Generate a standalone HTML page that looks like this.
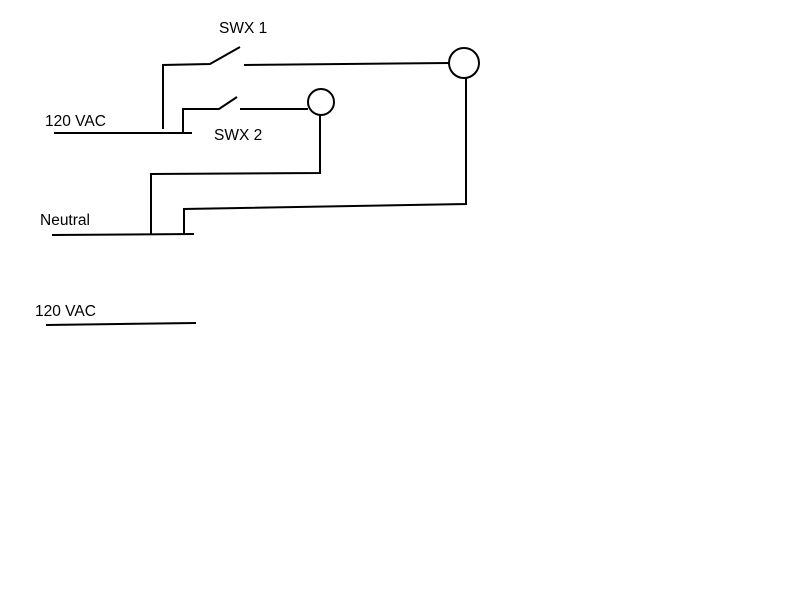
<!DOCTYPE html>
<html><head><meta charset="utf-8"><style>
html,body{margin:0;padding:0;background:#fff;}
svg{display:block;}
text{font-family:"Liberation Sans",Arial,sans-serif;font-size:15.5px;fill:#000;}
</style></head><body>
<svg width="800" height="600" viewBox="0 0 800 600" xmlns="http://www.w3.org/2000/svg">
<g stroke="#000" stroke-width="2" fill="none">
<!-- 120 VAC top -->
<line x1="54" y1="133" x2="192" y2="133"/>
<!-- SWX1 -->
<polyline points="163,129 163,65 210,64 240,47"/>
<line x1="244" y1="65" x2="449" y2="63"/>
<circle cx="464" cy="63" r="15"/>
<polyline points="466,78 466,204 184,209 184,234"/>
<!-- SWX2 -->
<polyline points="183,132 183,109 219,109 237,97"/>
<line x1="240" y1="109" x2="308" y2="109"/>
<circle cx="321" cy="102" r="13"/>
<polyline points="320,115 320,173 151,174 151,234"/>
<!-- Neutral -->
<line x1="52" y1="235" x2="194" y2="234"/>
<!-- 120 VAC bottom -->
<line x1="46" y1="325" x2="196" y2="323"/>
</g>
<text x="219" y="33">SWX 1</text>
<text x="45" y="126">120 VAC</text>
<text x="214" y="140">SWX 2</text>
<text x="40" y="225">Neutral</text>
<text x="35" y="316">120 VAC</text>
</svg>
</body></html>
